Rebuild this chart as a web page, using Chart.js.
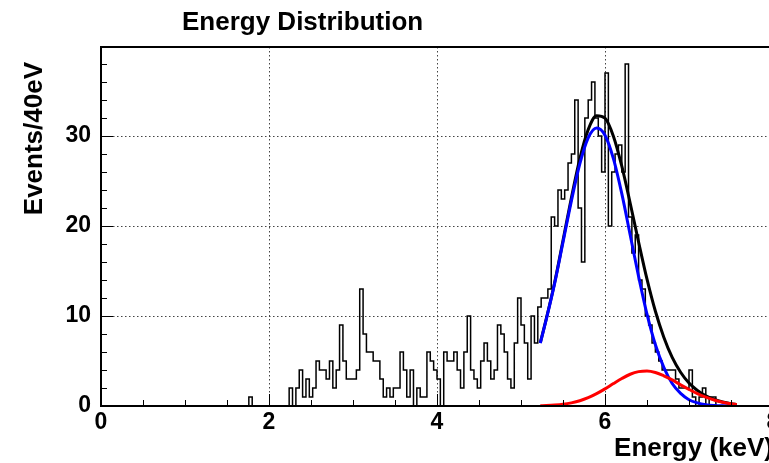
<!DOCTYPE html>
<html>
  <head>
    <meta charset="utf-8">
    <title>Energy Distribution</title>
    <script src="https://cdn.jsdelivr.net/npm/chart.js@4.4.0/dist/chart.umd.min.js"></script>
    <style>
      html, body { margin: 0; padding: 0; overflow: hidden; background: #fff; }
      #energyChart { display: block; }
    </style>
  </head>
  <body>
  <canvas id="energyChart" width="800" height="463"></canvas>
  <script>
    // 40 eV bins from 0 to 8 keV (200 bins)
    const binStart = 0;
    const binWidth = 0.04;
    const counts = [
      0,0,0,0,0,0,0,0,0,0, 0,0,0,0,0,0,0,0,0,0,
      0,0,0,0,0,0,0,0,0,0, 0,0,0,0,0,0,0,0,0,0,
      0,0,0,0,0,1,0,0,0,0, 0,0,0,0,0,0,0,2,0,2,
      4,1,3,1,2,5,4,4,3,5, 2,4,9,5,3,3,3,4,13,8,
      6,6,5,5,3,1,2,1,2,2, 6,4,1,4,0,2,1,1,6,5,
      4,3,0,6,5,5,6,4,2,6, 10,4,3,2,5,7,5,3,4,9,
      8,6,3,2,7,12,9,7,3,10, 7,11,12,12,13,21,20,24,23,24,
      27,28,34,22,16,32,34,36,32,30, 26,37,20,26,28,29,26,38,21,17,
      19,14,13,10,9,7,6,5,4,4, 4,4,3,2,2,2,4,1,0,1,
      2,0,1,1,0,0,0,0,0,0, 0,0,0,0,0,0,0,0,0,0
    ];

    // fitted curves
    const fitX       = [5.23, 5.3, 5.4, 5.5, 5.6, 5.7, 5.8, 5.9, 6.0, 6.1, 6.2, 6.3, 6.4, 6.5, 6.6, 6.7, 6.8, 6.9, 7.0, 7.1, 7.2, 7.3, 7.4, 7.5, 7.57];
    const totalFit   = [7.03, 9.65, 13.7, 18.39, 23.15, 27.48, 30.72, 32.27, 32.0, 29.99, 26.65, 22.53, 18.22, 14.1, 10.53, 7.65, 5.4, 3.75, 2.55, 1.73, 1.13, 0.72, 0.44, 0.26, 0.18];
    const mainPeak   = [7.0, 9.6, 13.6, 18.2, 22.8, 26.9, 29.8, 30.9, 30.1, 27.5, 23.6, 19.0, 14.4, 10.2, 6.8, 4.3, 2.5, 1.4, 0.7, 0.35, 0.15, 0.06, 0.02, 0.0, 0.0];
    const secondPeak = [0.03, 0.05, 0.1, 0.19, 0.35, 0.58, 0.92, 1.37, 1.9, 2.49, 3.05, 3.53, 3.82, 3.9, 3.73, 3.35, 2.9, 2.35, 1.85, 1.38, 0.98, 0.66, 0.42, 0.26, 0.18];

    const xMin = 0, xMax = 8, xMajor = 2, xMinor = 0.5;
    const yMin = 0, yMax = 39.9, yMajor = 10, yMinor = 2;

    const FONT = '"Liberation Sans", Arial, sans-serif';

    let histPoints = counts.map((c, i) => ({x: binStart + i * binWidth, y: c}));
    histPoints.push({x: binStart + counts.length * binWidth, y: counts[counts.length - 1]});

    function curve(ys) {
      return fitX.map((x, i) => ({x: x, y: ys[i]}));
    }

    // ROOT-like frame, inside ticks and titles
    const rootFrame = {
      id: 'rootFrame',
      afterDatasetsDraw(chart) {
        const ctx = chart.ctx;
        const a = chart.chartArea;
        const xs = chart.scales.x, ys = chart.scales.y;
        ctx.save();
        ctx.strokeStyle = '#000';
        ctx.lineWidth = 1;
        ctx.beginPath();
        for (let v = xMin; v <= xMax + 1e-9; v += xMinor) {
          const px = Math.round(xs.getPixelForValue(v)) + 0.5;
          const len = (Math.abs(v / xMajor - Math.round(v / xMajor)) < 1e-6) ? 12 : 6;
          ctx.moveTo(px, a.bottom);
          ctx.lineTo(px, a.bottom - len);
        }
        for (let v = yMin; v <= yMax; v += yMinor) {
          const py = Math.round(ys.getPixelForValue(v)) + 0.5;
          const len = (v % yMajor === 0) ? 12 : 6;
          ctx.moveTo(a.left, py);
          ctx.lineTo(a.left + len, py);
        }
        ctx.stroke();
        ctx.lineWidth = 2;
        ctx.strokeRect(a.left, a.top, a.right - a.left, a.bottom - a.top);

        ctx.fillStyle = '#000';
        ctx.font = 'bold 26px ' + FONT;
        ctx.textBaseline = 'alphabetic';
        ctx.textAlign = 'left';
        ctx.fillText('Energy Distribution', 182, 30);

        ctx.textAlign = 'right';
        ctx.fillText('Energy (keV)', a.right, 456);

        ctx.translate(42, 62);
        ctx.rotate(-Math.PI / 2);
        ctx.textAlign = 'right';
        ctx.fillText('Events/40eV', 0, 0);
        ctx.restore();
      }
    };

    const ctx = document.getElementById('energyChart').getContext('2d');
    const chart = new Chart(ctx, {
      type: 'line',
      data: {
        datasets: [
          {
            label: 'second peak', data: curve(secondPeak), order: 0,
            borderColor: '#ff0000', borderWidth: 3, pointRadius: 0,
            cubicInterpolationMode: 'monotone', fill: false
          },
          {
            label: 'main peak', data: curve(mainPeak), order: 1,
            borderColor: '#0000ff', borderWidth: 3, pointRadius: 0,
            cubicInterpolationMode: 'monotone', fill: false
          },
          {
            label: 'total fit', data: curve(totalFit), order: 2,
            borderColor: '#000000', borderWidth: 3, pointRadius: 0,
            cubicInterpolationMode: 'monotone', fill: false
          },
          {
            label: 'Events', data: histPoints, order: 3,
            borderColor: '#000000', borderWidth: 1.5, pointRadius: 0,
            stepped: 'after', fill: false
          }
        ]
      },
      options: {
        responsive: false,
        animation: false,
        devicePixelRatio: 1,
        layout: { padding: { top: 47, right: 27, left: 0, bottom: 0 } },
        plugins: {
          legend: { display: false },
          title: { display: false },
          tooltip: { enabled: false }
        },
        scales: {
          x: {
            type: 'linear', min: xMin, max: xMax,
            ticks: {
              stepSize: xMajor, padding: 3, autoSkip: false, maxRotation: 0,
              color: '#000', font: { family: FONT, size: 23, weight: 'bold' }
            },
            grid: { color: '#444', lineWidth: 1, drawTicks: false },
            border: { display: false, dash: [1.5, 2.5] },
            afterFit: (s) => { s.height = 57; }
          },
          y: {
            type: 'linear', min: yMin, max: yMax,
            ticks: {
              stepSize: yMajor, includeBounds: false, padding: 10,
              color: '#000', font: { family: FONT, size: 23, weight: 'bold' }
            },
            grid: { color: '#444', lineWidth: 1, drawTicks: false },
            border: { display: false, dash: [1.5, 2.5] },
            afterFit: (s) => { s.width = 101; }
          }
        }
      },
      plugins: [rootFrame]
    });
  </script>
  </body>
</html>
